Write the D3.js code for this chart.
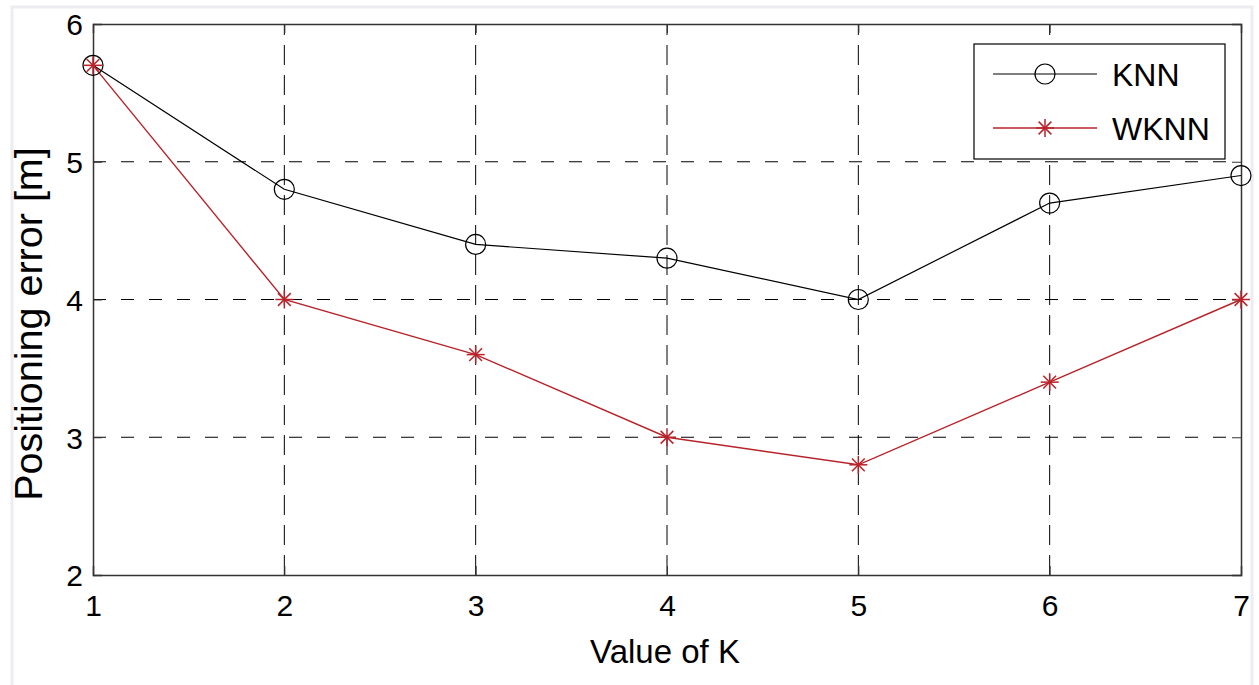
<!DOCTYPE html>
<html>
<head>
<meta charset="utf-8">
<script src="https://cdn.jsdelivr.net/npm/d3@7"></script>
<style>
  body { margin: 0; background: #fff; overflow: hidden; }
  text { font-family: "Liberation Sans", Arial, sans-serif; fill: #000; }
</style>
</head>
<body>
<div id="main"></div>
<script>
// data
const kValues = [1, 2, 3, 4, 5, 6, 7];
const knnError = [5.7, 4.8, 4.4, 4.3, 4.0, 4.7, 4.9];
const wknnError = [5.7, 4.0, 3.6, 3.0, 2.8, 3.4, 4.0];
const yTicks = [2, 3, 4, 5, 6];
const seriesNames = ['KNN', 'WKNN'];

const width = 1259, height = 685;
const margin = { left: 93, right: 18, top: 24, bottom: 110 };
const red = '#b8232a';

let svg = d3.select('#main')
    .append('svg')
        .attr('width', width)
        .attr('height', height);

// faint outer frame of the figure
svg.append('rect')
    .attr('x', 12).attr('y', 7)
    .attr('width', 1240).attr('height', 690)
    .attr('fill', 'none')
    .attr('stroke', '#ececf2')
    .attr('stroke-width', 3);

const x = d3.scaleLinear().domain([1, 7]).range([margin.left, width - margin.right]);
const y = d3.scaleLinear().domain([2, 6]).range([height - margin.bottom, margin.top]);

// dashed grid
svg.append('g')
    .selectAll('line')
    .data(kValues.slice(1, -1))
    .enter().append('line')
        .attr('x1', d => x(d)).attr('x2', d => x(d))
        .attr('y1', y(2)).attr('y2', y(6))
        .attr('stroke', '#000')
        .attr('stroke-dasharray', '20,10');

svg.append('g')
    .selectAll('line')
    .data(yTicks.slice(1, -1))
    .enter().append('line')
        .attr('x1', x(1)).attr('x2', x(7))
        .attr('y1', d => y(d)).attr('y2', d => y(d))
        .attr('stroke', '#000')
        .attr('stroke-dasharray', '13,15');

// axes (matlab style: ticks point inward)
const xAxis = svg.append('g')
    .attr('transform', `translate(0,${y(2)})`)
    .call(d3.axisBottom(x).tickValues(kValues).tickFormat(d3.format('d')).tickSize(-9).tickPadding(20));
const yAxis = svg.append('g')
    .attr('transform', `translate(${x(1)},0)`)
    .call(d3.axisLeft(y).tickValues(yTicks).tickFormat(d3.format('d')).tickSize(-9).tickPadding(10));
svg.append('g')
    .attr('transform', `translate(0,${y(6)})`)
    .call(d3.axisTop(x).tickValues(kValues).tickFormat('').tickSize(-9));
svg.append('g')
    .attr('transform', `translate(${x(7)},0)`)
    .call(d3.axisRight(y).tickValues(yTicks).tickFormat('').tickSize(-9));

svg.selectAll('.domain').attr('stroke', '#333').attr('stroke-width', 1.5);
svg.selectAll('.tick line').attr('stroke', '#333');
xAxis.attr('font-size', 30).attr('font-family', null);
yAxis.attr('font-size', 30).attr('font-family', null);
yAxis.selectAll('text').attr('dy', '0.36em');

// axis titles
svg.append('text')
    .attr('x', 665).attr('y', 663)
    .attr('text-anchor', 'middle')
    .style('font-size', '33px')
    .text('Value of K');

svg.append('text')
    .attr('transform', 'translate(42,324) rotate(-90) scale(1.04,1)')
    .attr('text-anchor', 'middle')
    .style('font-size', '38px')
    .text('Positioning error [m]');

// lines
const line = d3.line().x(d => x(d[0])).y(d => y(d[1]));
const knnPts = kValues.map((k, i) => [k, knnError[i]]);
const wknnPts = kValues.map((k, i) => [k, wknnError[i]]);

svg.append('path').datum(knnPts)
    .attr('d', line).attr('fill', 'none')
    .attr('stroke', '#000').attr('stroke-width', 1.2);
svg.append('path').datum(wknnPts)
    .attr('d', line).attr('fill', 'none')
    .attr('stroke', red).attr('stroke-width', 1.4);

// markers
function drawCircle(g, cx, cy) {
    g.append('circle')
        .attr('cx', cx).attr('cy', cy).attr('r', 10)
        .attr('fill', 'none').attr('stroke', '#000').attr('stroke-width', 1.2);
}
function drawStar(g, cx, cy) {
    const r = 9, d = r * Math.SQRT1_2;
    const segs = [[-r, 0, r, 0], [0, -r, 0, r], [-d, -d, d, d], [-d, d, d, -d]];
    g.selectAll(null).data(segs).enter().append('line')
        .attr('x1', s => cx + s[0]).attr('y1', s => cy + s[1])
        .attr('x2', s => cx + s[2]).attr('y2', s => cy + s[3])
        .attr('stroke', red).attr('stroke-width', 1.5);
}

const markers = svg.append('g');
knnPts.forEach(p => drawCircle(markers, x(p[0]), y(p[1])));
wknnPts.forEach(p => drawStar(markers, x(p[0]), y(p[1])));

// legend
const legend = svg.append('g').attr('transform', 'translate(974,44)');
legend.append('rect')
    .attr('width', 251).attr('height', 115)
    .attr('fill', '#fff').attr('stroke', '#000').attr('stroke-width', 1.2);

seriesNames.forEach((name, i) => {
    const ly = 30 + i * 54;
    legend.append('line')
        .attr('x1', 19).attr('x2', 123).attr('y1', ly).attr('y2', ly)
        .attr('stroke', i === 0 ? '#000' : red).attr('stroke-width', i === 0 ? 1.2 : 1.4);
    if (i === 0) drawCircle(legend, 71, ly);
    else drawStar(legend, 71, ly);
    legend.append('text')
        .attr('x', 138).attr('y', ly + 12)
        .style('font-size', '32px')
        .text(name);
});
</script>
</body>
</html>
